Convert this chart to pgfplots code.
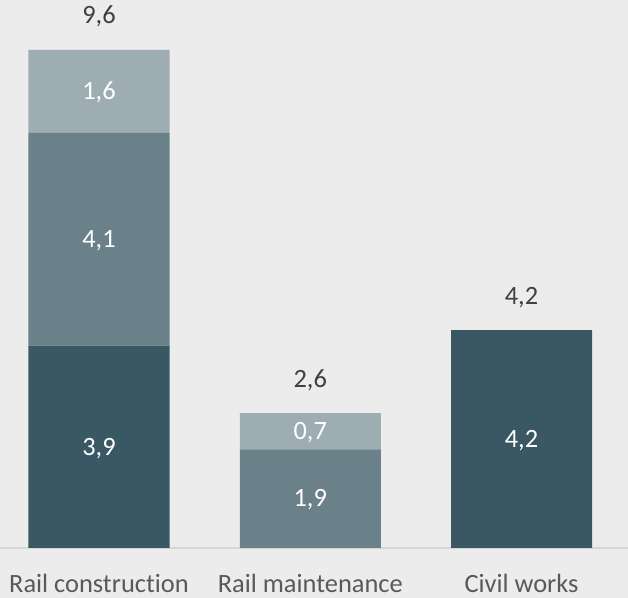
\documentclass[border=0pt]{standalone}
\usepackage{pgfplots}
\pgfplotsset{compat=1.18}
\usepackage{fontspec}
\setmainfont{Carlito}[Ligatures=CommonOff]
\definecolor{bg}{HTML}{ECECEC}
\definecolor{cdark}{HTML}{3A5764}
\definecolor{cmid}{HTML}{6A818A}
\definecolor{clight}{HTML}{9EADB2}
\definecolor{linegray}{HTML}{D6D6D6}
\definecolor{tickgray}{HTML}{595959}
\definecolor{totgray}{HTML}{404040}
\newcommand{\lblfont}{\fontsize{19.8}{23}\selectfont}
\begin{document}
\begin{tikzpicture}
\fill[bg] (0,-37.5pt) rectangle (471pt,411pt);
\pgfplotsset{base/.style={scale only axis, width=471pt, height=411pt,
  xmin=-0.4686, xmax=2.504, ymin=0, ymax=10.56, clip=false}}
\begin{axis}[base, ybar stacked, bar width=105.75pt,
  axis x line=bottom, hide y axis,
  axis line style={draw=linegray, line width=0.9pt, -},
  xtick={0,1,2},
  xticklabels={Rail construction, Rail maintenance, Civil works},
  major tick length=0pt,
  xticklabel style={font=\lblfont, text=tickgray, anchor=base, yshift=-33.5pt}]
\addplot[fill=cdark, draw=none] coordinates {(0,3.9) (1,0) (2,4.2)};
\addplot[fill=cmid, draw=none] coordinates {(0,4.1) (1,1.9) (2,0)};
\addplot[fill=clight, draw=none] coordinates {(0,1.6) (1,0.7) (2,0)};
\end{axis}
\begin{axis}[base, axis lines=none,
  point meta=explicit,
  /pgf/number format/use comma,
  /pgf/number format/fixed,
  /pgf/number format/fixed zerofill,
  /pgf/number format/precision=1,
  /pgf/number format/assume math mode=true]
% labels inside segments (at segment midpoints)
\addplot[draw=none, mark=none, nodes near coords,
  every node near coord/.append style={anchor=base, yshift=-6.2pt, text=white, font=\lblfont}]
  coordinates {(0,1.95)[3.9] (0,5.95)[4.1] (0,8.8)[1.6]
               (1,0.95)[1.9] (1,2.25)[0.7]
               (2,2.1)[4.2]};
% totals above bars
\addplot[draw=none, mark=none, nodes near coords,
  every node near coord/.append style={anchor=base, yshift=19.5pt, text=totgray, font=\lblfont}]
  coordinates {(0,9.6)[9.6] (1,2.6)[2.6] (2,4.2)[4.2]};
\end{axis}
\pgfresetboundingbox
\useasboundingbox (0,-37.5pt) rectangle (471pt,411pt);
\end{tikzpicture}
\end{document}
